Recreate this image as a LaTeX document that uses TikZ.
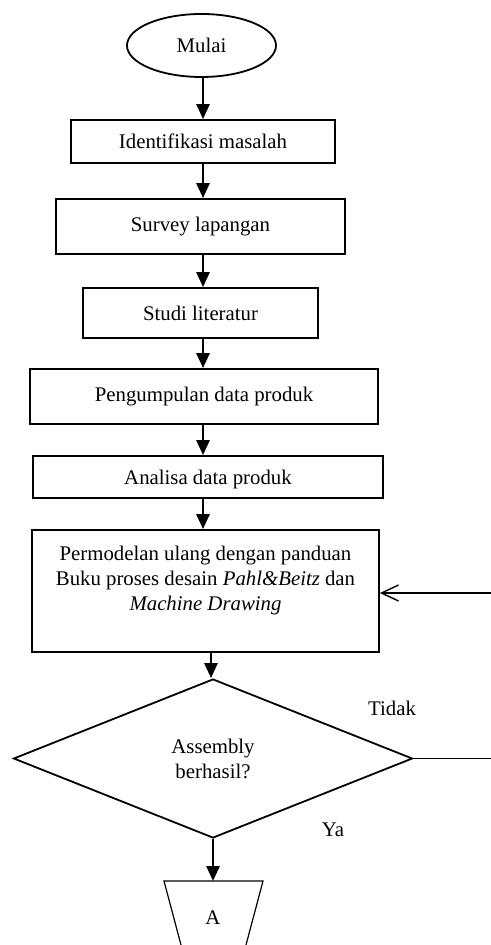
\documentclass[tikz,border=0pt]{standalone}
\usepackage{fontspec}
\setmainfont{Liberation Serif}
\usetikzlibrary{shapes.geometric,arrows.meta,calc}
\begin{document}
\begin{tikzpicture}[x=0.5pt,y=-0.5pt,
  every node/.style={font=\fontsize{10.4}{12.5}\selectfont},
  procbox/.style={draw, line width=0.9pt, rectangle, inner sep=0pt, align=center},
  arr/.style={line width=1.4pt, -{Triangle[length=7.5pt,width=6.5pt]}},
  thinline/.style={line width=0.9pt}]
\useasboundingbox (0,0) rectangle (491,945);
\clip (0,0) rectangle (491,945);

\node[draw, ellipse, line width=0.9pt, minimum width=74.5pt, minimum height=31.5pt, inner sep=0pt] (mulai) at (201.5,45.5) {Mulai};
\node[procbox, minimum width=132pt, minimum height=21.5pt] (idf) at (203,141.5) {Identifikasi masalah};
\node[procbox, minimum width=144.5pt, minimum height=27.5pt] (srv) at (200.5,226.5) {Survey lapangan};
\node[procbox, minimum width=117.5pt, minimum height=25pt] (std) at (200.5,313) {Studi literatur};
\node[procbox, minimum width=174pt, minimum height=27.5pt] (pgm) at (204,396.5) {Pengumpulan data produk};
\node[procbox, minimum width=175pt, minimum height=21pt, text depth=0pt] (ana) at (208,477) {Analisa data produk};
\node[procbox, minimum width=173.5pt, minimum height=61pt] (big) at (205.5,591) {Permodelan ulang dengan panduan\\Buku proses desain \textit{Pahl\&Beitz} dan\\\textit{Machine Drawing}\\\mbox{}};
\node[draw, diamond, aspect=2.5, line width=0.9pt, minimum width=199.5pt, minimum height=79.5pt, inner sep=0pt, align=center] (dia) at (213,758.5) {Assembly\\berhasil?};

% off-page connector
\draw[line width=0.6pt] (164,881) -- (263,881) -- (242,960) -- (185,960) -- cycle;
\node (A) at (213,918) {A};
\coordinate (trapTop) at (213,881);

\node (tidak) at (392,708) {Tidak};
\node (ya) at (333,830) {Ya};

\coordinate (sp) at (203,0);
\coordinate (sp2) at (211,0);
\draw[arr] (mulai.south -| sp) -- (idf.north -| sp);
\draw[arr] (idf.south -| sp) -- (srv.north -| sp);
\draw[arr] (srv.south -| sp) -- (std.north -| sp);
\draw[arr] (std.south -| sp) -- (pgm.north -| sp);
\draw[arr] (pgm.south -| sp) -- (ana.north -| sp);
\draw[arr] (ana.south -| sp) -- (big.north -| sp);
\draw[arr] (big.south -| sp2) -- (dia.north -| sp2);
\draw[arr] (dia.south) -- (trapTop);

\coordinate (fbin) at (491,593);
\draw[line width=1pt, -{Straight Barb[length=8.5pt,width=8pt,line width=0.7pt]}] (fbin) -- (fbin -| big.east);
\coordinate (tout) at (491,760);
\draw[thinline] (dia.east) -- (dia.east -| tout);
\end{tikzpicture}
\end{document}
